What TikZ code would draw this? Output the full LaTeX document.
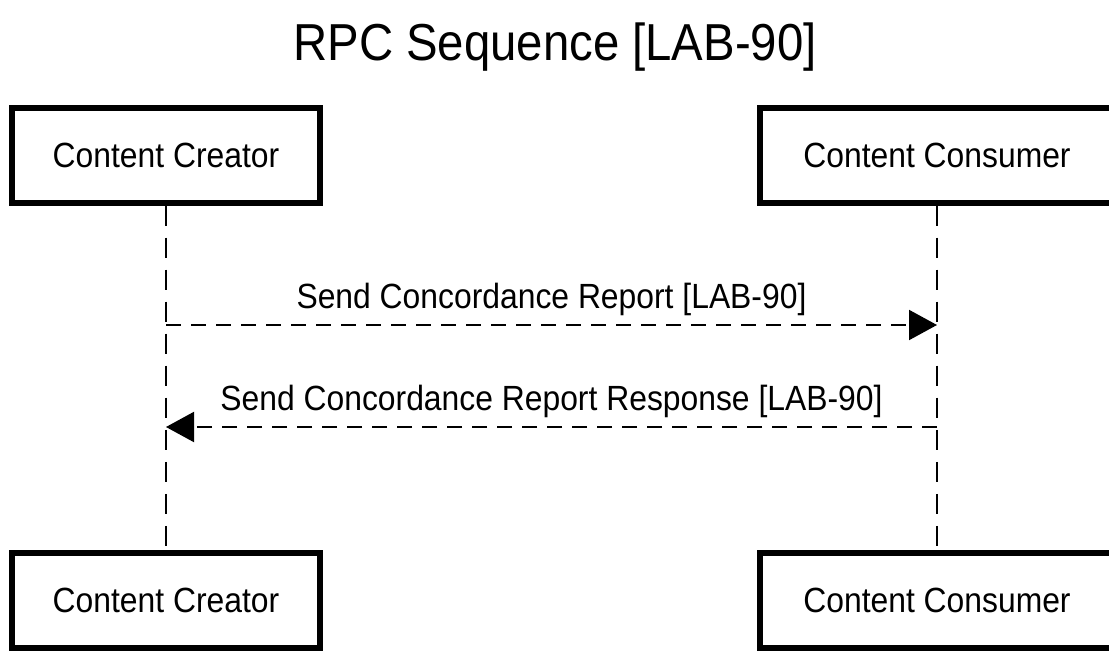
\documentclass[tikz,border=0pt]{standalone}
\usepackage{fontspec}
\setmainfont{Liberation Sans}[FakeStretch=0.91]
\usetikzlibrary{arrows.meta}
\begin{document}
\begin{tikzpicture}[x=1pt,y=-1pt,
  actor/.style={draw, line width=5.5pt, minimum height=95pt, inner sep=0pt, text depth=0pt, font=\fontsize{35}{40}\selectfont},
  lifeline/.style={line width=2pt, dash pattern=on 20pt off 12pt},
  msg/.style={line width=2pt, dash pattern=on 15pt off 10pt, -{Triangle[length=28pt,width=30pt]}},
  msglabel/.style={font=\fontsize{35}{40}\selectfont, inner sep=0pt},
  titlestyle/.style={font=\fontsize{52}{60}\selectfont, inner sep=0pt}]
\useasboundingbox[clip] (0,0) rectangle (1109,652);
\fill[white] (0,0) rectangle (1109,652);
\node[titlestyle] (title) at (555,47) {RPC Sequence [LAB-90]};
\node[actor, minimum width=308pt] (cr1) at (166,155.5) {Content Creator};
\node[actor, minimum width=354pt] (co1) at (937,155.5) {Content Consumer};
\node[actor, minimum width=308pt] (cr2) at (166,600.5) {Content Creator};
\node[actor, minimum width=354pt] (co2) at (937,600.5) {Content Consumer};
\draw[lifeline] (cr1.south) -- (cr2.north);
\draw[lifeline] (co1.south) -- (co2.north);
\coordinate (a1s) at (166,325);
\coordinate (a1e) at (937,325);
\coordinate (a2s) at (937,427);
\coordinate (a2e) at (166,427);
\draw[msg] (a1s) -- (a1e) node[msglabel, midway, yshift=26pt] (l1) {Send Concordance Report [LAB-90]};
\draw[msg] (a2s) -- (a2e) node[msglabel, midway, yshift=26pt] (l2) {Send Concordance Report Response [LAB-90]};
\end{tikzpicture}
\end{document}
